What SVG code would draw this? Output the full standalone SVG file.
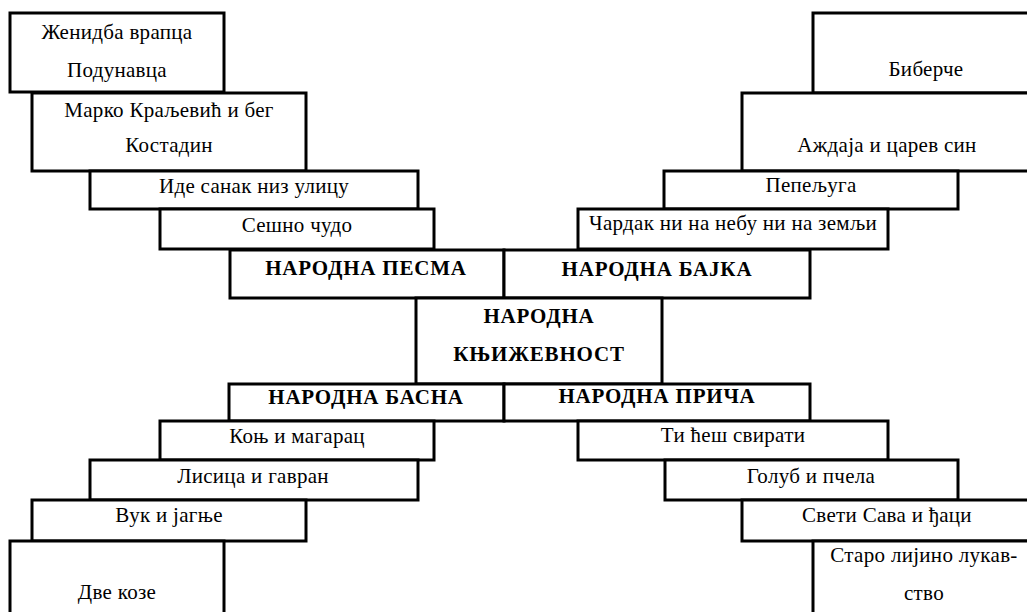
<svg xmlns="http://www.w3.org/2000/svg" width="1027" height="612" viewBox="0 0 1027 612">
<style>
rect{fill:#fff;stroke:#000;stroke-width:3}
text{font-family:"Liberation Serif","Times New Roman",serif;font-size:21px;letter-spacing:0.3px;fill:#000;text-anchor:middle}
.b{font-weight:bold;letter-spacing:0.8px}
</style>
<rect x="0" y="0" width="1027" height="612" style="stroke:none"/>
<g id="zhenidba"><rect x="10" y="13" width="214" height="79"/><text x="117" y="39">Женидба врапца</text><text x="117" y="77">Подунавца</text></g>
<g id="marko"><rect x="32" y="93" width="274" height="78"/><text x="169" y="117">Марко Краљевић и бег</text><text x="169" y="152">Костадин</text></g>
<g id="ide"><rect x="90" y="171" width="328" height="38"/><text x="254" y="193">Иде санак низ улицу</text></g>
<g id="seshno"><rect x="160" y="209" width="274" height="40"/><text x="297" y="232">Сешно чудо</text></g>
<g id="biberche"><rect x="813" y="13" width="230" height="80"/><text x="926" y="76">Биберче</text></g>
<g id="azhdaja"><rect x="742" y="93" width="300" height="78"/><text x="887" y="152">Аждаја и царев син</text></g>
<g id="pepeljuga"><rect x="664" y="171" width="294" height="38"/><text x="811" y="192">Пепељуга</text></g>
<g id="chardak"><rect x="578" y="209" width="310" height="40"/><text x="733" y="230">Чардак ни на небу ни на земљи</text></g>
<g id="pesma"><rect x="230" y="250" width="274" height="48"/><text class="b" x="366" y="275">НАРОДНА ПЕСМА</text></g>
<g id="bajka"><rect x="504" y="250" width="306" height="48"/><text class="b" x="657" y="276">НАРОДНА БАЈКА</text></g>
<g id="knjizevnost"><rect x="416" y="298" width="246" height="86"/><text class="b" x="539" y="323">НАРОДНА</text><text class="b" x="539" y="361">КЊИЖЕВНОСТ</text></g>
<g id="basna"><rect x="229" y="384" width="275" height="37"/><text class="b" x="366" y="404">НАРОДНА БАСНА</text></g>
<g id="prica"><rect x="504" y="384" width="306" height="37"/><text class="b" x="657" y="403">НАРОДНА ПРИЧА</text></g>
<g id="konj"><rect x="160" y="421" width="274" height="39"/><text x="297" y="443">Коњ и магарац</text></g>
<g id="lisica"><rect x="90" y="460" width="328" height="40"/><text x="253" y="483">Лисица и гавран</text></g>
<g id="vuk"><rect x="32" y="500" width="274" height="41"/><text x="169" y="522">Вук и јагње</text></g>
<g id="dvekoze"><rect x="10" y="541" width="214" height="80"/><text x="117" y="599">Две козе</text></g>
<g id="ti"><rect x="578" y="421" width="310" height="39"/><text x="733" y="442">Ти ћеш свирати</text></g>
<g id="golub"><rect x="665" y="460" width="293" height="40"/><text x="811" y="483">Голуб и пчела</text></g>
<g id="sveti"><rect x="742" y="500" width="300" height="41"/><text x="887" y="522">Свети Сава и ђаци</text></g>
<g id="staro"><rect x="813" y="541" width="230" height="80"/><text x="924" y="562">Старо лијино лукав-</text><text x="924" y="600">ство</text></g>
</svg>
